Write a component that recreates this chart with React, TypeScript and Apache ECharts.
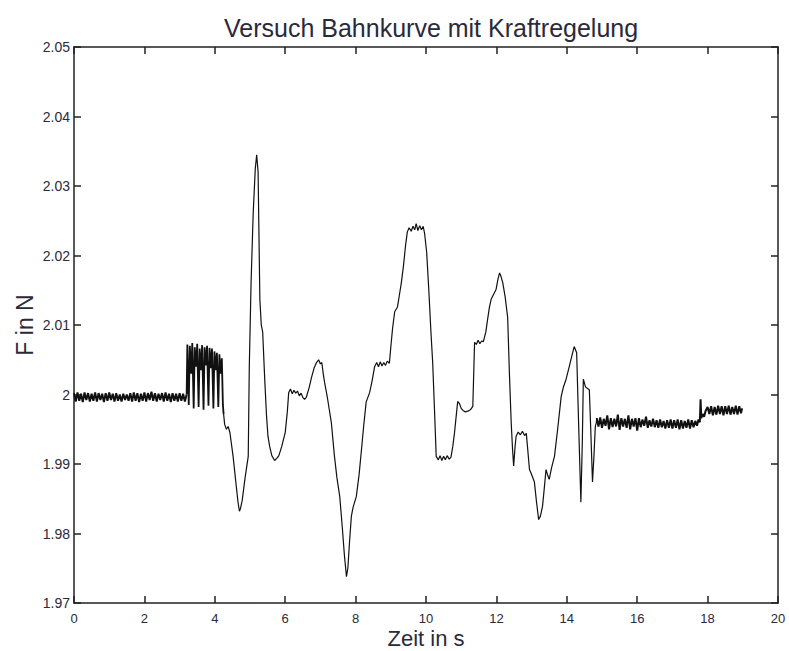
import React, { useEffect, useRef } from "react";
import * as echarts from "echarts";

const titleText = "Versuch Bahnkurve mit Kraftregelung";
const xName = "Zeit in s";
const yName = "F in N";
const xMin = 0, xMax = 20, xStep = 2;
const yMin = 1.97, yMax = 2.05, yStep = 0.01;

// quiet phase at the start (noise band)
const quietStart: [number, number][] = [
  [0,2.0002],[0.05,1.9990],[0.1,2.0003],[0.15,1.9991],[0.2,2.0001],[0.25,1.9989],[0.3,2.0003],[0.35,1.9992],
  [0.4,2.0002],[0.45,1.9990],[0.5,2.0001],[0.55,1.9991],[0.6,2.0003],[0.65,1.9990],[0.7,2.0002],[0.75,1.9992],
  [0.8,2.0001],[0.85,1.9989],[0.9,2.0002],[0.95,1.9991],[1.0,2.0003],[1.05,1.9992],[1.1,2.0001],[1.15,1.9990],
  [1.2,2.0002],[1.25,1.9991],[1.3,2.0000],[1.35,1.9990],[1.4,2.0001],[1.45,1.9992],[1.5,2.0000],[1.55,1.9991],
  [1.6,2.0002],[1.65,1.9990],[1.7,2.0003],[1.75,1.9991],[1.8,2.0002],[1.85,1.9989],[1.9,2.0001],[1.95,1.9991],
  [2.0,2.0003],[2.05,1.9990],[2.1,2.0002],[2.15,1.9992],[2.2,2.0004],[2.25,1.9991],[2.3,2.0002],[2.35,1.9990],
  [2.4,2.0001],[2.45,1.9992],[2.5,2.0002],[2.55,1.9990],[2.6,2.0003],[2.65,1.9991],[2.7,2.0001],[2.75,1.9989],
  [2.8,2.0002],[2.85,1.9991],[2.9,2.0001],[2.95,1.9990],[3.0,2.0002],[3.05,1.9991],[3.1,2.0001],[3.15,1.9990],
  [3.2,2.0000],
];

// strong oscillation between ~3.2 s and ~4.25 s
const oscillation: [number, number][] = [
  [3.2,2.0000],[3.22,2.0072],[3.26,1.9985],[3.29,2.0070],[3.33,2.0030],[3.36,2.0074],[3.40,1.9980],[3.43,2.0068],
  [3.47,2.0040],[3.50,2.0073],[3.54,1.9982],[3.57,2.0066],[3.61,2.0035],[3.64,2.0071],[3.68,1.9978],[3.71,2.0068],
  [3.75,2.0042],[3.78,2.0070],[3.82,1.9984],[3.85,2.0067],[3.89,2.0038],[3.92,2.0066],[3.96,1.9980],[3.99,2.0062],
  [4.03,2.0035],[4.06,2.0060],[4.10,1.9982],[4.13,2.0058],[4.17,2.0030],[4.20,2.0052],[4.23,1.9985],[4.25,1.9972],
];

// trajectory part
const transient: [number, number][] = [
  [4.25,1.9972],[4.28,1.9957],[4.33,1.9950],[4.38,1.9954],[4.43,1.9945],[4.52,1.9911],[4.61,1.9868],[4.66,1.9845],
  [4.70,1.9832],[4.73,1.9836],[4.78,1.9848],[4.86,1.9880],[4.95,1.9911],[4.98,2.0040],[5.03,2.0160],[5.09,2.0260],
  [5.15,2.0325],[5.19,2.0345],[5.23,2.0320],[5.28,2.0137],[5.32,2.0100],[5.36,2.0090],[5.42,2.0020],[5.47,1.9969],
  [5.51,1.9940],[5.56,1.9925],[5.62,1.9912],[5.7,1.9905],[5.76,1.9908],[5.82,1.9912],[5.9,1.9925],[6.0,1.9945],
  [6.06,1.9975],[6.1,2.0003],[6.15,2.0008],[6.2,2.0001],[6.25,2.0006],[6.3,2.0002],[6.35,2.0005],[6.4,1.9998],
  [6.45,2.0002],[6.5,1.9996],[6.55,1.9993],[6.6,1.9996],[6.68,2.0010],[6.75,2.0025],[6.82,2.0038],[6.89,2.0046],
  [6.95,2.0050],[7.0,2.0044],[7.04,2.0046],[7.08,2.0030],[7.12,2.0017],[7.2,1.9995],[7.31,1.9960],[7.4,1.9911],
  [7.47,1.9880],[7.55,1.9853],[7.62,1.9810],[7.68,1.9770],[7.74,1.9738],[7.78,1.9750],[7.83,1.9790],[7.88,1.9825],
  [7.93,1.9838],[8.02,1.9853],[8.1,1.9885],[8.16,1.9917],[8.23,1.9955],[8.3,1.9989],[8.4,2.0003],[8.47,2.0020],
  [8.54,2.0040],[8.6,2.0046],[8.65,2.0040],[8.7,2.0047],[8.75,2.0041],[8.8,2.0046],[8.85,2.0042],[8.9,2.0048],
  [8.96,2.0045],[9.0,2.0068],[9.05,2.0095],[9.11,2.0119],[9.19,2.0126],[9.25,2.0145],[9.3,2.0161],[9.36,2.0185],
  [9.42,2.0215],[9.47,2.0234],[9.52,2.0240],[9.58,2.0235],[9.63,2.0242],[9.68,2.0237],[9.72,2.0246],[9.77,2.0236],
  [9.82,2.0243],[9.87,2.0237],[9.92,2.0242],[9.96,2.0232],[10.02,2.0204],[10.08,2.0150],[10.14,2.0090],[10.19,2.0046],
  [10.24,1.9980],[10.29,1.9911],[10.35,1.9906],[10.4,1.9912],[10.45,1.9905],[10.5,1.9911],[10.55,1.9906],[10.6,1.9912],
  [10.66,1.9907],[10.71,1.9910],[10.76,1.9925],[10.81,1.9945],[10.86,1.9970],[10.9,1.9990],[10.95,1.9987],[11.0,1.9980],
  [11.05,1.9977],[11.12,1.9975],[11.19,1.9976],[11.26,1.9978],[11.33,1.9983],[11.38,2.0075],[11.43,2.0072],[11.48,2.0078],
  [11.53,2.0073],[11.58,2.0077],[11.63,2.0076],[11.7,2.0090],[11.75,2.0108],[11.8,2.0125],[11.85,2.0137],[11.9,2.0142],
  [11.94,2.0146],[11.99,2.0151],[12.04,2.0165],[12.09,2.0175],[12.13,2.0170],[12.18,2.0161],[12.25,2.0140],[12.32,2.0111],
  [12.37,2.0030],[12.42,1.9960],[12.46,1.9920],[12.49,1.9897],[12.53,1.9925],[12.56,1.9940],[12.62,1.9946],[12.68,1.9942],
  [12.74,1.9947],[12.8,1.9941],[12.85,1.9944],[12.94,1.9892],[13.0,1.9885],[13.08,1.9874],[13.14,1.9845],[13.2,1.9820],
  [13.25,1.9825],[13.31,1.9839],[13.36,1.9865],[13.41,1.9892],[13.45,1.9885],[13.5,1.9878],[13.57,1.9895],[13.65,1.9911],
  [13.74,1.9950],[13.84,1.9997],[13.9,2.0010],[13.98,2.0022],[14.07,2.0040],[14.14,2.0055],[14.21,2.0069],[14.28,2.0060],
  [14.34,1.9950],[14.4,1.9845],[14.44,1.9930],[14.47,2.0022],[14.53,2.0011],[14.58,2.0009],[14.64,2.0007],[14.68,1.9950],
  [14.73,1.9874],[14.77,1.9910],[14.81,1.9954],[14.84,1.9960],[14.85,1.9966],
];

// quiet phase at the end
const quietEnd: [number, number][] = [
  [14.85,1.9966],[14.9,1.9954],[14.95,1.9967],[15.0,1.9952],[15.05,1.9965],[15.1,1.9955],[15.15,1.9970],[15.2,1.9950],
  [15.25,1.9966],[15.3,1.9953],[15.35,1.9965],[15.4,1.9954],[15.45,1.9971],[15.5,1.9949],[15.55,1.9966],[15.6,1.9954],
  [15.65,1.9965],[15.7,1.9952],[15.75,1.9970],[15.8,1.9950],[15.85,1.9965],[15.9,1.9954],[15.95,1.9966],[16.0,1.9948],
  [16.05,1.9966],[16.1,1.9953],[16.15,1.9964],[16.2,1.9955],[16.25,1.9968],[16.3,1.9952],[16.35,1.9963],[16.4,1.9954],
  [16.45,1.9965],[16.5,1.9953],[16.55,1.9963],[16.6,1.9952],[16.65,1.9964],[16.7,1.9953],[16.75,1.9962],[16.8,1.9951],
  [16.85,1.9963],[16.9,1.9952],[16.95,1.9964],[17.0,1.9951],[17.05,1.9963],[17.1,1.9952],[17.15,1.9964],[17.2,1.9950],
  [17.25,1.9963],[17.3,1.9951],[17.35,1.9962],[17.4,1.9952],[17.45,1.9964],[17.5,1.9951],[17.55,1.9963],[17.6,1.9953],
  [17.65,1.9962],[17.7,1.9955],[17.74,1.9964],[17.78,1.9960],[17.8,1.9993],[17.82,1.9966],[17.86,1.9972],[17.9,1.9968],
  [17.94,1.9976],[18.0,1.9982],[18.05,1.9972],[18.1,1.9983],[18.15,1.9970],[18.2,1.9982],[18.25,1.9971],[18.3,1.9984],
  [18.35,1.9972],[18.4,1.9983],[18.45,1.9970],[18.5,1.9983],[18.55,1.9972],[18.6,1.9984],[18.65,1.9971],[18.7,1.9982],
  [18.75,1.9972],[18.8,1.9984],[18.85,1.9971],[18.9,1.9983],[18.95,1.9973],[18.98,1.9980],
];

const axisColor = "#222";
const labelColor = "#2a2a3a";
const font = "Liberation Sans, Arial, sans-serif";

export default function App() {
  const ref = useRef<HTMLDivElement>(null);
  useEffect(() => {
    if (!ref.current) return;
    const chart = echarts.init(ref.current, undefined, { renderer: "svg" });
    const xBase = {
      type: "value" as const,
      min: xMin,
      max: xMax,
      interval: xStep,
      splitLine: { show: false },
      axisLine: { show: true, onZero: false, lineStyle: { color: axisColor, width: 1.5 } },
      axisTick: { show: true, inside: true, length: 7, lineStyle: { color: axisColor, width: 1.5 } },
    };
    const yBase = {
      type: "value" as const,
      min: yMin,
      max: yMax,
      interval: yStep,
      splitLine: { show: false },
      axisLine: { show: true, onZero: false, lineStyle: { color: axisColor, width: 1.5 } },
      axisTick: { show: true, inside: true, length: 7, lineStyle: { color: axisColor, width: 1.5 } },
    };
    const lineSeries = (data: [number, number][], width: number) => ({
      type: "line",
      data,
      xAxisIndex: 0,
      yAxisIndex: 0,
      showSymbol: false,
      symbol: "none",
      lineStyle: { color: "#111", width },
    });
    chart.setOption({
      animation: false,
      backgroundColor: "#fff",
      title: {
        text: titleText,
        left: 219,
        top: 10,
        textStyle: { fontFamily: font, fontSize: 25, fontWeight: "normal", color: labelColor },
      },
      grid: { left: 74, right: 11, top: 47, bottom: 48, containLabel: false, outerBoundsMode: "none" },
      xAxis: [
        {
          ...xBase,
          position: "bottom",
          name: xName,
          nameLocation: "middle",
          nameGap: 24,
          nameMoveOverlap: false,
          nameTextStyle: { fontFamily: font, fontSize: 22, lineHeight: 22, color: labelColor },
          axisLabel: { fontFamily: font, fontSize: 13, color: labelColor, margin: 9 },
        },
        { ...xBase, position: "top", axisLabel: { show: false } },
      ],
      yAxis: [
        {
          ...yBase,
          position: "left",
          name: yName,
          nameLocation: "middle",
          nameGap: 38,
          nameMoveOverlap: false,
          nameTextStyle: { fontFamily: font, fontSize: 23, color: labelColor },
          axisLabel: {
            fontFamily: font,
            fontSize: 14,
            color: labelColor,
            margin: 4,
            formatter: (v: number) => String(parseFloat(v.toFixed(2))),
          },
        },
        { ...yBase, position: "right", axisLabel: { show: false } },
      ],
      series: [
        lineSeries(quietStart, 2),
        lineSeries(oscillation, 1.8),
        lineSeries(transient, 1.2),
        lineSeries(quietEnd, 2),
      ],
    });
    return () => chart.dispose();
  }, []);
  return <div ref={ref} style={{ position: "absolute", left: 0, top: 0, width: 789, height: 651 }} />;
}
